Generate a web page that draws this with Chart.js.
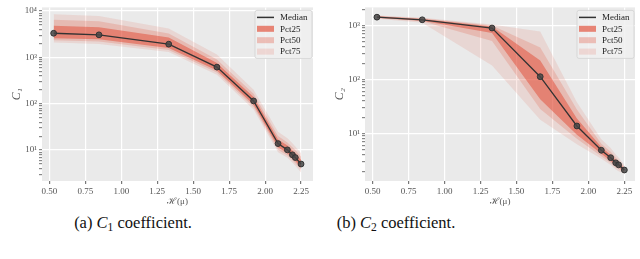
<!DOCTYPE html>
<html>
<head>
<meta charset="utf-8">
<script src="https://cdn.jsdelivr.net/npm/chart.js@4.4.0/dist/chart.umd.min.js"></script>
<style>
body { margin: 0; width: 640px; height: 259px; background: #fff; overflow: hidden; position: relative; }
.box { position: absolute; top: 0; width: 320px; height: 208px; }
.cap { position: absolute; top: 213px; font-family: "Liberation Serif", serif; font-size: 16.5px; white-space: nowrap; transform: translateX(-50%); color: #111; }
.cap sub { font-size: 70%; vertical-align: -0.25em; }
</style>
</head>
<body>
<div class="box" style="left:0"><canvas id="c1" width="320" height="208"></canvas></div>
<div class="box" style="left:320px"><canvas id="c2" width="320" height="208"></canvas></div>
<div class="cap" style="left:133px">(a) <i>C</i><sub>1</sub> coefficient.</div>
<div class="cap" style="left:396px">(b) <i>C</i><sub>2</sub> coefficient.</div>
<script>
// entropy values (x)
const entropy = [0.53, 0.845, 1.33, 1.665, 1.92, 2.09, 2.155, 2.19, 2.21, 2.25];
const xTicks = [0.50, 0.75, 1.00, 1.25, 1.50, 1.75, 2.00, 2.25];

// C1 coefficient
const c1Median = [3320, 3070, 1930, 617, 115, 13.8, 10.1, 7.9, 6.9, 5.0];
const c1P25Hi = [4800, 4500, 2700, 760, 140, 17, 12.5, 9.8, 8.5, 6.2];
const c1P25Lo = [2600, 2450, 1600, 520, 95, 11.5, 8.5, 6.6, 5.8, 4.2];
const c1P50Hi = [6500, 6000, 3300, 900, 165, 20, 14.5, 11.5, 10, 7.2];
const c1P50Lo = [2350, 2200, 1450, 470, 85, 10.2, 7.6, 6, 5.2, 3.8];
const c1P75Hi = [8500, 7800, 4200, 1150, 200, 25, 18, 14, 12, 8.5];
const c1P75Lo = [2100, 1950, 1300, 420, 75, 9, 6.8, 5.3, 4.6, 3.3];

// C2 coefficient
const c2Median = [1430, 1280, 900, 113, 13.8, 4.9, 3.57, 2.87, 2.63, 2.11];
const c2P25Hi = [1480, 1330, 960, 226, 19, 5.6, 4.0, 3.2, 2.9, 2.25];
const c2P25Lo = [1390, 1230, 730, 43, 9.5, 4.2, 3.1, 2.55, 2.4, 1.98];
const c2P50Hi = [1500, 1360, 1000, 393, 28, 6.5, 4.6, 3.6, 3.2, 2.4];
const c2P50Lo = [1370, 1200, 516, 28.6, 8, 3.8, 2.85, 2.35, 2.2, 1.9];
const c2P75Hi = [1530, 1400, 1050, 780, 38, 7.8, 5.4, 4.1, 3.6, 2.6];
const c2P75Lo = [1340, 1130, 182, 18, 6.3, 3.4, 2.6, 2.15, 2.0, 1.8];

const decadeLabels = {1: '10\u00b9', 2: '10\u00b2', 3: '10\u00b3', 4: '10\u2074'};
const legendNames = ['Median', 'Pct25', 'Pct50', 'Pct75'];

const serif = '"Liberation Serif", "DejaVu Serif", serif';
const red = '226,74,51';
const bandAlpha = [0.5, 0.2, 0.12];

function isDecade(v) {
    const l = Math.log10(v);
    return Math.abs(l - Math.round(l)) < 1e-9;
}

function pts(ys) {
    return ys.map((y, i) => ({x: entropy[i], y: y}));
}

const bgPlugin = {
    id: 'bg',
    beforeDraw(chart) {
        const {ctx, chartArea: a} = chart;
        ctx.save();
        ctx.fillStyle = '#EAEAEA';
        ctx.fillRect(a.left, a.top, a.width, a.height);
        ctx.restore();
    }
};

const legendPlugin = {
    id: 'innerLegend',
    afterDatasetsDraw(chart) {
        const {ctx, chartArea: a} = chart;
        const w = 57, h = 48;
        const x0 = a.right - w - 1, y0 = a.top + 3;
        ctx.save();
        ctx.fillStyle = 'rgba(240,240,240,0.85)';
        ctx.strokeStyle = '#d2d2d2';
        ctx.lineWidth = 0.8;
        ctx.beginPath();
        ctx.roundRect(x0, y0, w, h, 2);
        ctx.fill();
        ctx.stroke();
        ctx.font = '9px ' + serif;
        ctx.textBaseline = 'middle';
        legendNames.forEach((name, i) => {
            const yy = y0 + 7 + i * 11.4;
            if (i === 0) {
                ctx.strokeStyle = '#333';
                ctx.lineWidth = 1.5;
                ctx.beginPath();
                ctx.moveTo(x0 + 2, yy);
                ctx.lineTo(x0 + 19, yy);
                ctx.stroke();
            } else {
                ctx.fillStyle = 'rgba(' + red + ',' + [0.65, 0.3, 0.15][i - 1] + ')';
                ctx.fillRect(x0 + 2, yy - 3, 17, 6);
            }
            ctx.fillStyle = '#222';
            ctx.fillText(name, x0 + 25, yy + 0.5);
        });
        ctx.restore();
    }
};

function makeChart(id, cfg) {
    const bands = [
        [cfg.p25Hi, cfg.p25Lo],
        [cfg.p50Hi, cfg.p50Lo],
        [cfg.p75Hi, cfg.p75Lo]
    ];
    const datasets = [{
        data: pts(cfg.median),
        borderColor: '#333',
        borderWidth: 1.3,
        pointRadius: 2.9,
        pointBackgroundColor: 'rgba(70,70,70,0.85)',
        pointBorderColor: '#333',
        pointBorderWidth: 1,
        fill: false
    }];
    bands.forEach((b, i) => {
        datasets.push({
            data: pts(b[0]),
            borderWidth: 0,
            pointRadius: 0,
            backgroundColor: 'rgba(' + red + ',' + bandAlpha[i] + ')',
            fill: '+1'
        });
        datasets.push({
            data: pts(b[1]),
            borderWidth: 0,
            pointRadius: 0,
            fill: false
        });
    });

    new Chart(document.getElementById(id), {
        type: 'line',
        data: {datasets: datasets},
        plugins: [bgPlugin, legendPlugin],
        options: {
            responsive: false,
            devicePixelRatio: 1,
            animation: false,
            layout: {padding: {top: 2, right: cfg.padRight, left: 0, bottom: 0}},
            plugins: {legend: {display: false}, tooltip: {enabled: false}},
            scales: {
                x: {
                    type: 'linear',
                    min: cfg.xMin,
                    max: cfg.xMax,
                    afterBuildTicks: s => { s.ticks = xTicks.map(v => ({value: v})); },
                    afterFit: s => { s.height = 27; },
                    ticks: {
                        autoSkip: false, maxRotation: 0, padding: 2,
                        color: '#555', font: {family: serif, size: 9},
                        callback: v => v.toFixed(2)
                    },
                    grid: {color: '#fff', lineWidth: 1.2, tickColor: '#777', tickLength: 3},
                    border: {display: false},
                    title: {
                        display: true, text: '\u210b(\u03bc)', color: '#555',
                        font: {family: serif, size: 9}, padding: {top: 0, bottom: 1}
                    }
                },
                y: {
                    type: 'logarithmic',
                    min: cfg.yMin,
                    max: cfg.yMax,
                    afterBuildTicks: s => {
                        const t = [];
                        for (let d = Math.floor(Math.log10(cfg.yMin)); d <= Math.ceil(Math.log10(cfg.yMax)); d++) {
                            for (let m = 1; m <= 9; m++) {
                                const v = m * Math.pow(10, d);
                                if (v >= cfg.yMin && v <= cfg.yMax) t.push({value: v});
                            }
                        }
                        s.ticks = t;
                    },
                    afterFit: s => { s.width = cfg.yWidth; },
                    ticks: {
                        autoSkip: false, padding: 2,
                        color: '#555', font: {family: serif, size: 9},
                        callback: v => isDecade(v) ? decadeLabels[Math.round(Math.log10(v))] : ''
                    },
                    grid: {
                        color: c => (c.tick && isDecade(c.tick.value)) ? '#fff' : 'rgba(0,0,0,0)',
                        lineWidth: 1.2,
                        tickColor: '#888',
                        tickLength: 3
                    },
                    border: {display: false},
                    title: {
                        display: true, text: cfg.yTitle, color: '#555',
                        font: {family: serif, size: 12, style: 'italic'},
                        padding: {top: cfg.titlePad, bottom: 0}
                    }
                }
            }
        }
    });
}

makeChart('c1', {
    median: c1Median, p25Hi: c1P25Hi, p25Lo: c1P25Lo, p50Hi: c1P50Hi, p50Lo: c1P50Lo, p75Hi: c1P75Hi, p75Lo: c1P75Lo,
    xMin: 0.449, xMax: 2.333, yMin: 2.15, yMax: 12000, yWidth: 42, padRight: 7, titlePad: 10, yTitle: 'C\u2081'
});
makeChart('c2', {
    median: c2Median, p25Hi: c2P25Hi, p25Lo: c2P25Lo, p50Hi: c2P50Hi, p50Lo: c2P50Lo, p75Hi: c2P75Hi, p75Lo: c2P75Lo,
    xMin: 0.447, xMax: 2.324, yMin: 1.32, yMax: 2170, yWidth: 45, padRight: 4, titlePad: 13, yTitle: 'C\u2082'
});
</script>
</body>
</html>
